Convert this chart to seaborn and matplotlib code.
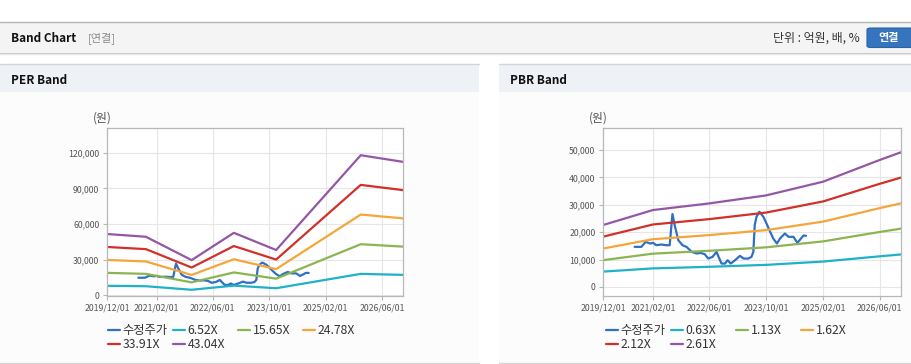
import pandas as pd
import seaborn as sns
import matplotlib.pyplot as plt
from matplotlib.patches import Rectangle, FancyBboxPatch
from matplotlib.lines import Line2D

# ---- data ----
per_dates = ['2019-12-01', '2020-11-01', '2021-12-01', '2022-12-01',
             '2023-12-01', '2025-12-01', '2026-12-01']
per_652 = [7800, 7450, 4470, 7950, 5760, 17880, 17030]
per_1565 = [18730, 17890, 10720, 19090, 13820, 42910, 40880]
per_2478 = [29660, 28320, 16970, 30230, 21880, 67950, 64730]
per_3391 = [40590, 38760, 23230, 41370, 29940, 92980, 88570]
per_4304 = [51520, 49200, 29480, 52510, 38000, 118020, 112420]

pbr_dates = ['2019-12-01', '2021-02-01', '2022-06-01', '2023-10-01',
             '2025-02-01', '2026-06-01', '2026-12-01']
pbr_063 = [5600, 6770, 7360, 8060, 9270, 11180, 11860]
pbr_113 = [9780, 12150, 13200, 14460, 16630, 20060, 21280]
pbr_162 = [14010, 17420, 18920, 20740, 23850, 28760, 30510]
pbr_212 = [18340, 22790, 24760, 27140, 31210, 37630, 39920]
pbr_261 = [22580, 28060, 30490, 33410, 38420, 46330, 49150]

price_dates = ['2020-08-28', '2020-10-25', '2020-12-01', '2021-01-07', '2021-02-04',
               '2021-03-01', '2021-04-16', '2021-05-22', '2021-06-25', '2021-07-19',
               '2021-08-07', '2021-09-07', '2021-10-13', '2021-11-16', '2022-01-01',
               '2022-02-13', '2022-03-16', '2022-04-22', '2022-05-22', '2022-06-28',
               '2022-08-01', '2022-08-25', '2022-09-13', '2022-10-13', '2022-11-04',
               '2022-12-01', '2023-01-07', '2023-02-18', '2023-03-22', '2023-05-01',
               '2023-05-28', '2023-06-13', '2023-06-25', '2023-07-10', '2023-08-04',
               '2023-09-07', '2023-10-04', '2023-11-04', '2023-12-01', '2024-01-01',
               '2024-01-28', '2024-03-10', '2024-04-10', '2024-05-22', '2024-06-25',
               '2024-07-19', '2024-08-16', '2024-09-07']
price = [14630, 14630, 16460, 15850, 16100,
         15240, 15490, 15240, 15240, 26590,
         22560, 17070, 15240, 14630, 12800,
         12200, 12440, 11950, 10370, 10980,
         12800, 10370, 8540, 8540, 9760,
         8540, 9760, 11340, 10370, 10370,
         10980, 12800, 22560, 25610, 27440,
         25610, 23170, 20120, 17680, 15850,
         17680, 19510, 18290, 18290, 16100,
         17320, 18780, 18660]

per_labels = ['수정주가', '6.52X', '15.65X', '24.78X', '33.91X', '43.04X']
pbr_labels = ['수정주가', '0.63X', '1.13X', '1.62X', '2.12X', '2.61X']
colors = ['#2f6fc4', '#1fb2c6', '#8ab552', '#f5a63a', '#d1302b', '#9457a6']
date_ticks = ['2019-12-01', '2021-02-01', '2022-06-01', '2023-10-01',
              '2025-02-01', '2026-06-01']

sns.set_style('white')
plt.rcParams['font.family'] = ['Noto Sans CJK KR', 'DejaVu Sans']

W, H = 912, 364
fig = plt.figure(figsize=(W / 100, H / 100), dpi=100)


def fx(x):
    return x / W


def fy(y):
    return 1 - y / H


def rect(x0, y0, x1, y1, color):
    fig.patches.append(Rectangle((fx(x0), fy(y1)), fx(x1) - fx(x0), fy(y0) - fy(y1),
                                 transform=fig.transFigure, facecolor=color,
                                 edgecolor='none', zorder=-5))


def hline(x0, x1, y, color, lw=1.0):
    fig.add_artist(Line2D([fx(x0), fx(x1)], [fy(y), fy(y)], color=color, lw=lw,
                          transform=fig.transFigure, zorder=-4))


# header bar
rect(0, 22, W, 52, '#f4f4f4')
hline(0, W, 22, '#b4b4b4')
hline(0, W, 52.5, '#c4c4c4')
hline(0, W, 54, '#e8e8e8')
fig.text(fx(11), fy(38), 'Band Chart', fontsize=8.5, fontweight='bold', va='center', color='#111111')
fig.text(fx(88), fy(38), '[연결]', fontsize=8, va='center', color='#8a8a8a')
fig.text(fx(860), fy(38), '단위 : 억원, 배, %', fontsize=8.6, va='center', ha='right', color='#333333')
fig.patches.append(FancyBboxPatch((fx(867), fy(47.5)), fx(60), 19.5 / H,
                                  boxstyle='round,pad=0,rounding_size=0.004',
                                  transform=fig.transFigure, facecolor='#3674bd',
                                  edgecolor='#2d63a6', lw=0.8, zorder=-3))
fig.text(fx(889), fy(38), '연결', fontsize=8, fontweight='bold', va='center', ha='center', color='white')

# panels
for x0, x1, title, tx in [(0, 479, 'PER Band', 11), (499, W, 'PBR Band', 510)]:
    rect(x0, 64, x1, 92, '#eef1f6')
    rect(x0, 92, x1, 362, '#fcfcfc')
    hline(x0, x1, 64, '#d4d4d4')
    hline(x0, x1, 362.5, '#d4d4d4')
    fig.text(fx(tx), fy(80), title, fontsize=8.5, fontweight='bold', va='center', color='#111111')


def draw_chart(left, right, dates, bands, labels, ylim, yticks, ylab_x, leg_x):
    ax = fig.add_axes([fx(left), fy(296), fx(right) - fx(left), (296 - 128) / H])
    frames = [pd.DataFrame({'date': pd.to_datetime(price_dates), 'value': price,
                            'series': labels[0]})]
    for lab, vals in zip(labels[1:], bands):
        frames.append(pd.DataFrame({'date': pd.to_datetime(dates), 'value': vals,
                                    'series': lab}))
    df = pd.concat(frames, ignore_index=True)
    sns.lineplot(data=df, x='date', y='value', hue='series', hue_order=labels,
                 palette=dict(zip(labels, colors)), estimator=None, sort=False,
                 linewidth=1.6, ax=ax)
    handles, labs = ax.get_legend_handles_labels()
    ax.get_legend().remove()

    ax.set_facecolor('white')
    ax.set_xlim(pd.Timestamp('2019-12-01'), pd.Timestamp('2026-12-01'))
    ax.set_ylim(*ylim)
    ax.set_yticks(yticks)
    ax.set_yticklabels([f'{v:,}' for v in yticks])
    ax.set_xticks(pd.to_datetime(date_ticks))
    ax.set_xticklabels([d.replace('-', '/') for d in date_ticks])
    ax.set_xlabel('')
    ax.set_ylabel('')
    ax.grid(True, color='#e6e6e6', lw=0.8)
    for s in ax.spines.values():
        s.set_color('#b8b8b8')
        s.set_linewidth(0.9)
    ax.tick_params(axis='both', labelsize=6.3, colors='#b8b8b8', labelcolor='#555555',
                   length=3, width=0.8, pad=2.5)
    ax.tick_params(axis='x', bottom=True)
    ax.tick_params(axis='y', left=True)
    fig.text(fx(ylab_x), fy(118), '(원)', fontsize=8.5, va='center', ha='center', color='#555555')

    order = [[0, 4], [1, 5], [2], [3]]
    for c, idx in enumerate(order):
        fig.legend([handles[i] for i in idx], [labs[i] for i in idx],
                   loc='upper left', bbox_to_anchor=(fx(leg_x + 65 * c), fy(324)),
                   frameon=False, fontsize=8.8, handlelength=0.95, handletextpad=0.25,
                   labelspacing=0.1, borderpad=0, borderaxespad=0,
                   labelcolor='#333333')
    return ax


draw_chart(107, 403, per_dates, [per_652, per_1565, per_2478, per_3391, per_4304],
           per_labels, (-800, 141000), [0, 30000, 60000, 90000, 120000], 102, 108)
draw_chart(603, 901, pbr_dates, [pbr_063, pbr_113, pbr_162, pbr_212, pbr_261],
           pbr_labels, (-3300, 58000), [0, 10000, 20000, 30000, 40000, 50000], 598, 606)

fig.savefig('out.png', dpi=100)
